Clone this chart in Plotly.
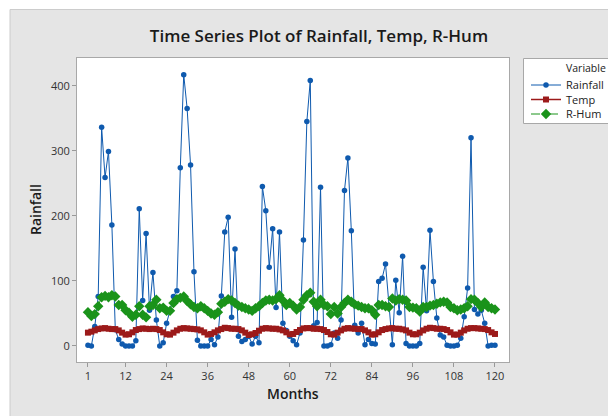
import plotly.graph_objects as go

months = list(range(1, 121))

rainfall = [1, 0, 30, 76, 336, 259, 299, 186, 25, 10, 3, 0,
            0, 0, 8, 211, 70, 173, 55, 113, 40, 0, 5, 35,
            55, 76, 85, 274, 417, 365, 278, 114, 9, 0, 0, 0,
            10, 2, 14, 77, 175, 198, 44, 149, 15, 7, 10, 15,
            3, 15, 5, 245, 208, 121, 180, 59, 175, 35, 24, 15,
            8, 2, 20, 163, 345, 408, 31, 36, 244, 0, 0, 2,
            20, 12, 40, 239, 289, 177, 32, 20, 35, 2, 10, 4,
            3, 99, 104, 126, 60, 2, 101, 51, 138, 4, 0, 0,
            0, 4, 121, 54, 178, 99, 43, 17, 14, 1, 0, 0,
            1, 12, 45, 89, 320, 56, 49, 55, 35, 0, 1, 1]

temp = [20.5, 22, 24, 26, 27, 27.5, 26.5, 26, 26, 24, 20.5, 17.5,
        18, 21, 24.5, 26, 27, 26.5, 26, 26.5, 26, 24.5, 21, 18,
        17.5, 20.5, 24, 26.5, 27.5, 27, 26.5, 26, 25.5, 24, 21, 17.5,
        18.5, 21, 24, 26, 28, 27.5, 26.5, 26.5, 26, 24, 20.5, 17,
        18, 20, 23.5, 26.5, 27.5, 27, 26.5, 26.5, 25.5, 24, 21, 18,
        18.5, 21.5, 24.5, 27, 27.5, 27.5, 26.5, 26.5, 26, 24.5, 21.5, 18,
        17.5, 20.5, 24, 26.5, 27.5, 27, 26.5, 26, 26, 24, 21, 17.5,
        18, 21, 24.5, 26, 27, 27.5, 26.5, 26.5, 25.5, 24, 20.5, 18,
        18, 20.5, 24, 26.5, 28, 27.5, 26.5, 26.5, 26, 24.5, 21, 17.5,
        17.5, 20.5, 24, 26.5, 27.5, 27.5, 27, 26.5, 26, 24.5, 21, 18.5]

rhum = [52, 46, 49, 61, 75, 77, 75, 78, 76, 63, 63, 55,
        51, 45, 48, 61, 48, 44, 61, 63, 71, 58, 59, 54,
        54, 66, 72, 74, 76, 69, 64, 60, 58, 61, 58, 54,
        50, 48, 52, 65, 68, 72, 70, 66, 62, 60, 58, 56,
        54, 58, 61, 66, 70, 71, 70, 72, 78, 70, 63, 66,
        62, 56, 60, 71, 78, 82, 68, 61, 71, 63, 61, 49,
        60, 50, 60, 66, 71, 68, 64, 62, 60, 58, 58, 55,
        48, 63, 63, 61, 60, 73, 70, 72, 71, 70, 60, 59,
        58, 53, 60, 60, 62, 63, 65, 67, 68, 67, 60, 58,
        55, 56, 58, 61, 72, 71, 66, 60, 67, 60, 58, 56]

x_ticks = [1, 12, 24, 36, 48, 60, 72, 84, 96, 108, 120]
y_ticks = [0, 100, 200, 300, 400]

BLUE = "#0f5aae"
RED = "#9c1a1a"
GREEN = "#1a931a"
FONT = "Open Sans"

fig = go.Figure()
fig.add_trace(go.Scatter(x=months, y=rainfall, name="Rainfall", mode="lines+markers",
                         line=dict(color=BLUE, width=1),
                         marker=dict(symbol="circle", size=5.5, color=BLUE),
                         legend="legend"))
fig.add_trace(go.Scatter(x=months, y=temp, name="Temp", mode="lines+markers",
                         line=dict(color=RED, width=1.5),
                         marker=dict(symbol="square", size=6, color=RED),
                         legend="legend2"))
fig.add_trace(go.Scatter(x=months, y=rhum, name="R-Hum", mode="lines+markers",
                         line=dict(color=GREEN, width=1, dash="dash"),
                         marker=dict(symbol="diamond", size=8, color=GREEN),
                         legend="legend3"))

# page offset (body margin) = 8 px
OFF = 8
W, H = 608, 408
L, R, T, B = 69, 107, 50, 54
PW, PH = W - L - R, H - T - B

def px(xp):
    # page pixel x -> paper coordinate
    return (xp - OFF - L) / PW

def py(yp):
    # page pixel y -> paper coordinate
    return (H - B - (yp - OFF)) / PH

legend_common = dict(bgcolor="rgba(0,0,0,0)", borderwidth=0, xanchor="left", yanchor="middle",
                     font=dict(family=FONT, size=11, color="#222"), itemwidth=30, visible=True)

shapes = [
    dict(type="rect", xref="paper", yref="paper", x0=px(-5), x1=px(630), y0=py(9.5), y1=py(-5),
         fillcolor="#ffffff", line=dict(width=0), layer="above"),
    dict(type="rect", xref="paper", yref="paper", x0=px(-5), x1=px(10), y0=py(430), y1=py(-5),
         fillcolor="#ffffff", line=dict(width=0), layer="above"),
    dict(type="line", xref="paper", yref="paper", x0=px(10), x1=px(630), y0=py(9.5), y1=py(9.5),
         line=dict(color="#cccccc", width=1)),
    dict(type="line", xref="paper", yref="paper", x0=px(10), x1=px(10), y0=py(9.5), y1=py(430),
         line=dict(color="#cccccc", width=1)),
    dict(type="rect", xref="paper", yref="paper", x0=px(523.5), x1=px(613.5), y0=py(123.5), y1=py(58.5),
         fillcolor="#ffffff", line=dict(color="#a8a8a8", width=1), layer="below"),
]

fig.update_layout(
    width=W, height=H,
    margin=dict(l=L, r=R, t=T, b=B, autoexpand=False),
    paper_bgcolor="#e5e5e5",
    plot_bgcolor="#ffffff",
    showlegend=True,
    font=dict(family=FONT, color="#222"),
    title=dict(text="Time Series Plot of Rainfall, Temp, R-Hum", xref="container", x=(319 - OFF) / W,
               xanchor="center", yref="container", y=1 - (36 - OFF) / H, yanchor="middle",
               font=dict(family=FONT, size=17, color="#1a1a1a", weight=600)),
    xaxis=dict(range=[-2.2, 124.1], tickmode="array", tickvals=x_ticks, ticktext=[str(v) for v in x_ticks],
               showgrid=False, zeroline=False, showline=True, mirror=True, linecolor="#a8a8a8", linewidth=1,
               ticks="outside", ticklen=4, tickcolor="#999999",
               tickfont=dict(family=FONT, size=11, color="#333")),
    yaxis=dict(range=[-24.6, 442.6], tickmode="array", tickvals=y_ticks,
               showgrid=False, zeroline=False, showline=True, mirror=True, linecolor="#a8a8a8", linewidth=1,
               ticks="outside", ticklen=4, tickcolor="#999999",
               tickfont=dict(family=FONT, size=11, color="#333")),
    shapes=shapes,
    legend=dict(x=px(526), y=py(85), **legend_common),
    legend2=dict(x=px(526), y=py(99.5), **legend_common),
    legend3=dict(x=px(526), y=py(114), **legend_common),
    annotations=[
        dict(text="Variable", xref="paper", yref="paper", x=px(564), y=py(68.5), xanchor="left", yanchor="middle",
             showarrow=False, font=dict(family=FONT, size=10.5, color="#222")),
        dict(text="Months", xref="paper", yref="paper", x=px(293), y=py(394), xanchor="center", yanchor="middle",
             showarrow=False, font=dict(family=FONT, size=14, color="#1a1a1a", weight=600)),
        dict(text="Rainfall", xref="paper", yref="paper", x=px(35), y=py(210), xanchor="center", yanchor="middle",
             textangle=-90, showarrow=False, font=dict(family=FONT, size=14, color="#1a1a1a", weight=600)),
    ],
)

fig.write_html("out.html")
